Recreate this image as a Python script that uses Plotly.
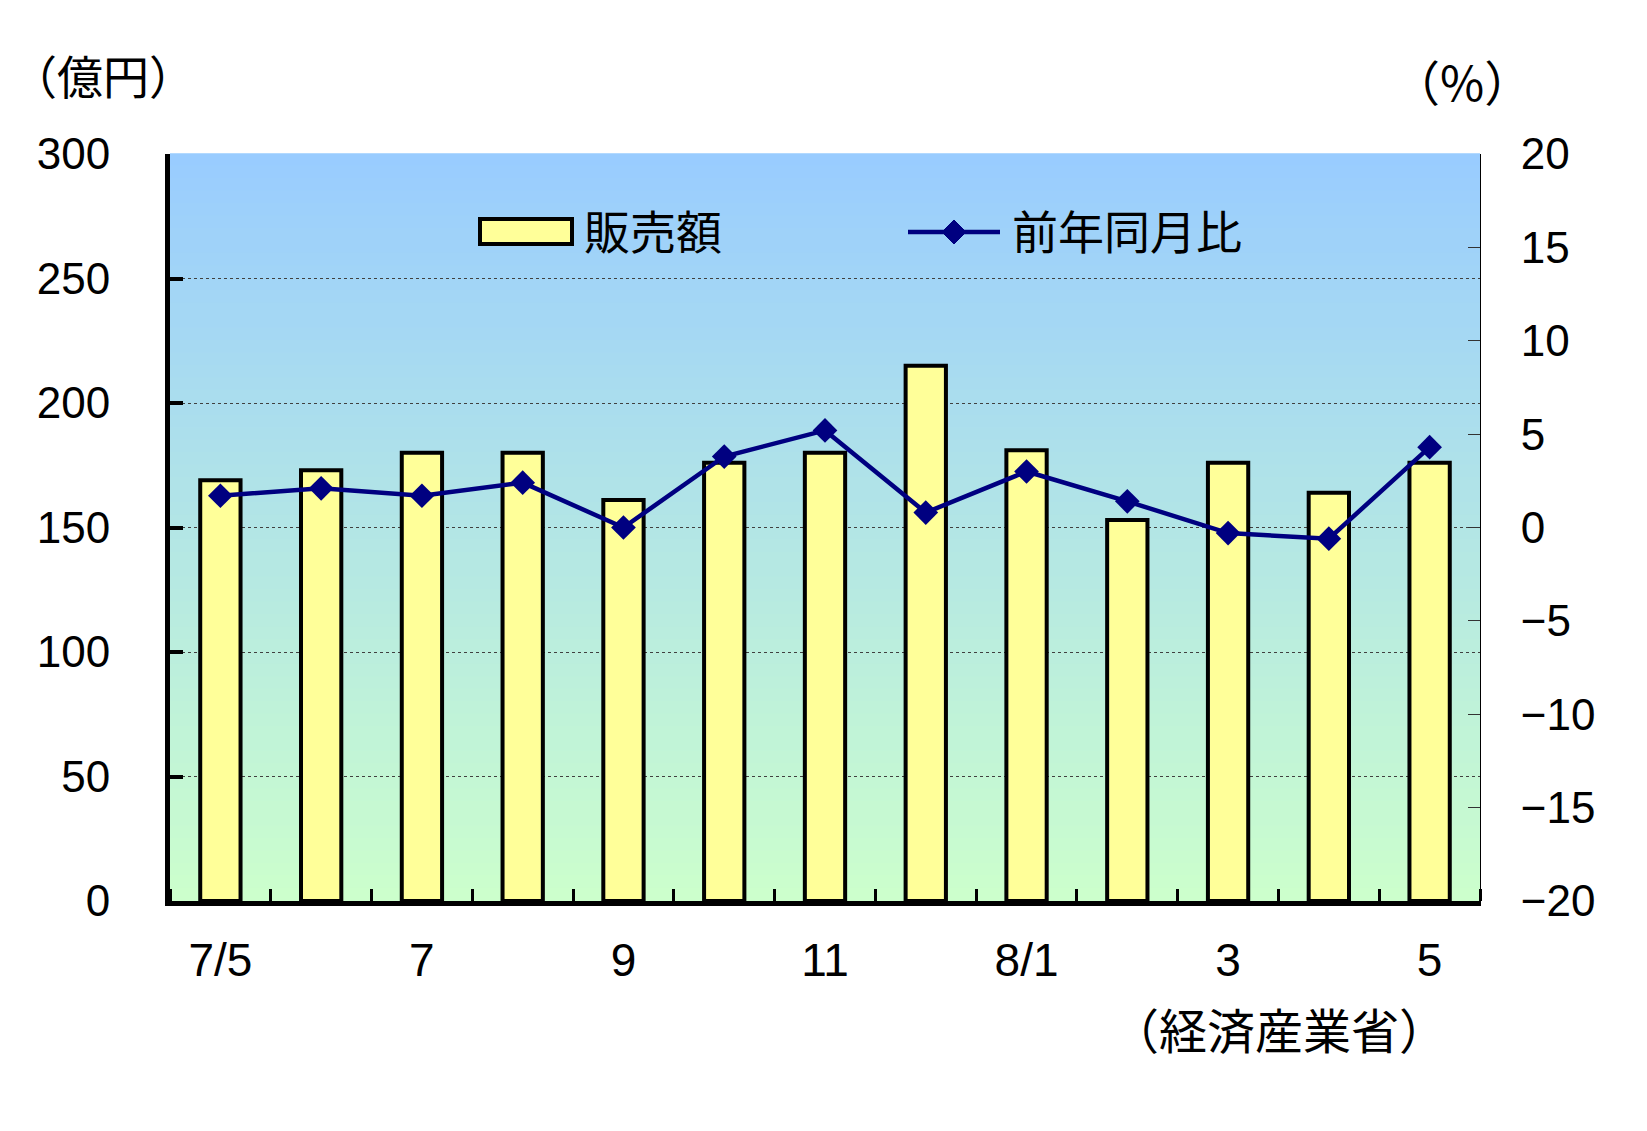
import plotly.graph_objects as go

# 月 (平成7年5月～8年5月)
months = ["7/5", "6", "7", "8", "9", "10", "11", "12", "8/1", "2", "3", "4", "5"]
labels_shown = ["7/5", "7", "9", "11", "8/1", "3", "5"]
sales = [169, 173, 180, 180, 161, 176, 180, 215, 181, 153, 176, 164, 176]   # 販売額 (億円)
yoy = [1.7, 2.1, 1.7, 2.4, 0.0, 3.8, 5.2, 0.8, 3.0, 1.4, -0.3, -0.6, 4.3]    # 前年同月比 (%)

idx = list(range(len(months)))
tick_pos = [i for i, m in enumerate(months) if m in labels_shown]

# page body has an 8px margin, so the figure is a bit smaller and shifted
OFF = 8
W, H = 1647 - 2 * OFF, 1131 - 2 * OFF
L, R, T, B = 162, 159, 146, 222
PW, PH = W - L - R, H - T - B

NUM_FONT = "Liberation Sans, Arial, Noto Sans CJK JP"
JP_FONT = "Noto Sans CJK JP, Noto Sans"
NAVY = "#000080"


def px(x):
    # page pixel -> paper x
    return (x - OFF - L) / PW


def py(y):
    # page pixel -> paper y
    return (H - B - (y - OFF)) / PH


fig = go.Figure()
fig.add_trace(go.Bar(
    x=idx, y=sales, name="販売額",
    marker=dict(color="#FFFF99", line=dict(color="black", width=4)),
))
fig.add_trace(go.Scatter(
    x=idx, y=yoy, name="前年同月比", yaxis="y2", mode="lines+markers",
    line=dict(color=NAVY, width=4.5),
    marker=dict(symbol="diamond", size=19, color=NAVY),
))

# gradient background (blue -> green)
top, bot = (153, 204, 255), (204, 255, 204)
n = 60
shapes = []
for k in range(n):
    t = (k + 0.5) / n
    c = tuple(round(top[j] + (bot[j] - top[j]) * t) for j in range(3))
    shapes.append(dict(
        type="rect", xref="paper", yref="paper", x0=0, x1=1,
        y0=1 - (k + 1) / n, y1=1 - k / n + 0.001,
        fillcolor="rgb(%d,%d,%d)" % c, line=dict(width=0), layer="below",
    ))

# legend drawn by hand (big symbols like the original)
shapes.append(dict(type="rect", xref="paper", yref="paper",
                   x0=px(480), x1=px(572), y0=py(244), y1=py(219),
                   fillcolor="#FFFF99", line=dict(color="black", width=4)))
shapes.append(dict(type="line", xref="paper", yref="paper",
                   x0=px(908), x1=px(1000), y0=py(232), y1=py(232),
                   line=dict(color=NAVY, width=4.5)))
cx, cy = 954, 232
shapes.append(dict(type="path", xref="paper", yref="paper",
                   path="M %f,%f L %f,%f L %f,%f L %f,%f Z" % (
                       px(cx - 12), py(cy), px(cx), py(cy - 12),
                       px(cx + 12), py(cy), px(cx), py(cy + 12)),
                   fillcolor=NAVY, line=dict(color=NAVY, width=1)))

ann = [
    dict(text="販売額", x=px(582), y=py(229), xanchor="left", font_size=46),
    dict(text="前年同月比", x=px(1010), y=py(229), xanchor="left", font_size=46),
    dict(text="（億円）", x=px(OFF + 1), y=py(74), xanchor="left", font_size=46),
    dict(text="（%）", x=px(1462), y=py(80), xanchor="center", font_size=48),
    dict(text="（経済産業省）", x=px(1279), y=py(1028), xanchor="center", font_size=48),
]
annotations = []
for a in ann:
    annotations.append(dict(
        text=a["text"], xref="paper", yref="paper", x=a["x"], y=a["y"],
        xanchor=a["xanchor"], yanchor="middle", showarrow=False,
        font=dict(family=JP_FONT, size=a["font_size"], color="black"),
    ))

fig.update_layout(
    width=W, height=H,
    margin=dict(l=L, r=R, t=T, b=B),
    paper_bgcolor="white", plot_bgcolor="white",
    shapes=shapes, annotations=annotations,
    bargap=0.6,
    showlegend=False,
    font=dict(family=NUM_FONT, color="black"),
    xaxis=dict(
        range=[-0.5, len(months) - 0.5],
        tickmode="array", tickvals=tick_pos, ticktext=labels_shown,
        ticks="", showgrid=False, zeroline=False,
        showline=True, linecolor="black", linewidth=5,
        tickfont=dict(family=NUM_FONT, size=46),
        ticklabelstandoff=15,
        minor=dict(tick0=0.5, dtick=1, ticks="inside", ticklen=12,
                   tickwidth=3, tickcolor="black", showgrid=False),
    ),
    yaxis=dict(
        range=[0, 300], tickmode="linear", tick0=0, dtick=50,
        showgrid=True, gridcolor="#404040", griddash="dot", gridwidth=1,
        zeroline=False, showline=True, linecolor="black", linewidth=5,
        ticks="inside", ticklen=13, tickwidth=4, tickcolor="black",
        tickfont=dict(family=NUM_FONT, size=44), ticklabelstandoff=46,
    ),
    yaxis2=dict(
        range=[-20, 20], tickmode="linear", tick0=-20, dtick=5,
        overlaying="y", side="right", showgrid=False, zeroline=False,
        showline=True, linecolor="black", linewidth=1,
        ticks="inside", ticklen=12, tickwidth=1, tickcolor="#333333",
        tickfont=dict(family=NUM_FONT, size=44), ticklabelstandoff=31,
    ),
)

fig.write_html("out.html")
